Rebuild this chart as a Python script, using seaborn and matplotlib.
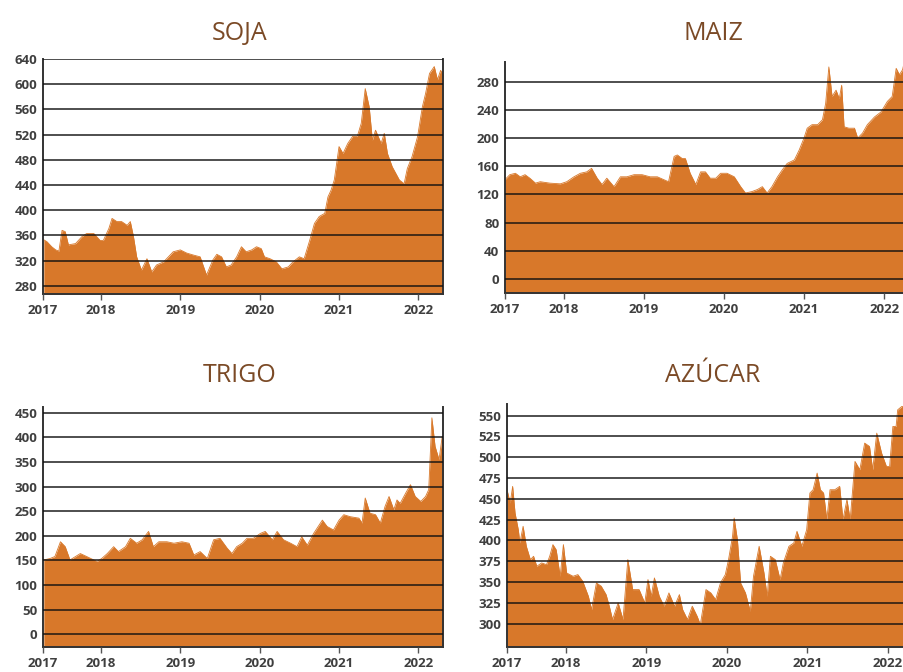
import pandas as pd
import seaborn as sns
import matplotlib.pyplot as plt

# fechas en años decimales
soja_t = [2017.28, 2017.32, 2017.38, 2017.43, 2017.47, 2017.51, 2017.55, 2017.59, 2017.68, 2017.76,
          2017.82, 2017.91, 2017.99, 2018.03, 2018.10, 2018.14, 2018.20, 2018.26, 2018.33, 2018.37,
          2018.41, 2018.45, 2018.51, 2018.58, 2018.64, 2018.70, 2018.79, 2018.85, 2018.91, 2019.00,
          2019.08, 2019.16, 2019.25, 2019.33, 2019.41, 2019.46, 2019.52, 2019.58, 2019.64, 2019.71,
          2019.77, 2019.83, 2019.90, 2019.96, 2020.02, 2020.06, 2020.13, 2020.21, 2020.28, 2020.36,
          2020.42, 2020.50, 2020.56, 2020.63, 2020.69, 2020.75, 2020.82, 2020.86, 2020.90, 2020.94,
          2021.00, 2021.05, 2021.11, 2021.17, 2021.23, 2021.28, 2021.33, 2021.38, 2021.42, 2021.46,
          2021.53, 2021.57, 2021.61, 2021.67, 2021.76, 2021.82, 2021.86, 2021.92, 2021.99, 2022.05,
          2022.09, 2022.14, 2022.20, 2022.24, 2022.28, 2022.31]
soja_v = [353, 350, 342, 337, 335, 368, 366, 345, 347, 358,
          363, 363, 352, 352, 371, 387, 382, 382, 376, 382,
          358, 326, 305, 323, 302, 313, 318, 326, 334, 337,
          332, 329, 326, 297, 321, 330, 326, 310, 313, 326,
          342, 334, 337, 342, 339, 326, 323, 318, 307, 310,
          318, 326, 323, 352, 379, 390, 395, 421, 432, 448,
          501, 490, 506, 517, 517, 538, 593, 564, 511, 527,
          506, 522, 490, 469, 448, 442, 466, 485, 517, 564,
          585, 617, 628, 607, 622, 615]

maiz_t = [2017.27, 2017.33, 2017.40, 2017.46, 2017.52, 2017.58, 2017.65, 2017.71, 2017.83, 2017.96,
          2018.04, 2018.13, 2018.21, 2018.29, 2018.35, 2018.42, 2018.48, 2018.54, 2018.63, 2018.71,
          2018.79, 2018.88, 2018.98, 2019.08, 2019.17, 2019.25, 2019.31, 2019.38, 2019.42, 2019.48,
          2019.52, 2019.58, 2019.65, 2019.71, 2019.77, 2019.83, 2019.90, 2019.96, 2020.04, 2020.13,
          2020.21, 2020.27, 2020.35, 2020.42, 2020.48, 2020.54, 2020.60, 2020.67, 2020.73, 2020.79,
          2020.88, 2020.94, 2021.00, 2021.04, 2021.10, 2021.17, 2021.23, 2021.27, 2021.31, 2021.35,
          2021.40, 2021.44, 2021.47, 2021.50, 2021.56, 2021.63, 2021.67, 2021.73, 2021.79, 2021.88,
          2021.96, 2022.04, 2022.10, 2022.15, 2022.19, 2022.23, 2022.26, 2022.31]
maiz_v = [141, 148, 150, 145, 148, 143, 136, 138, 136, 135,
          138, 145, 150, 152, 157, 143, 134, 143, 131, 145,
          145, 148, 148, 145, 145, 141, 138, 174, 176, 171,
          171, 150, 134, 152, 152, 143, 143, 150, 150, 145,
          131, 122, 124, 127, 131, 122, 131, 145, 155, 164,
          169, 183, 200, 214, 219, 219, 226, 249, 301, 259,
          268, 256, 275, 216, 214, 214, 200, 207, 219, 230,
          237, 252, 259, 299, 290, 297, 313, 310]

trigo_t = [2017.28, 2017.36, 2017.42, 2017.49, 2017.55, 2017.61, 2017.68, 2017.74, 2017.82, 2017.91,
           2017.95, 2018.01, 2018.08, 2018.16, 2018.22, 2018.31, 2018.37, 2018.45, 2018.52, 2018.60,
           2018.66, 2018.73, 2018.83, 2018.92, 2019.02, 2019.11, 2019.17, 2019.25, 2019.34, 2019.42,
           2019.50, 2019.59, 2019.65, 2019.71, 2019.78, 2019.84, 2019.92, 2020.01, 2020.07, 2020.16,
           2020.22, 2020.30, 2020.39, 2020.47, 2020.53, 2020.60, 2020.68, 2020.79, 2020.85, 2020.93,
           2021.00, 2021.06, 2021.14, 2021.25, 2021.29, 2021.33, 2021.39, 2021.46, 2021.52, 2021.58,
           2021.63, 2021.69, 2021.73, 2021.77, 2021.84, 2021.90, 2021.96, 2022.03, 2022.09, 2022.13,
           2022.17, 2022.21, 2022.26, 2022.30, 2022.32]
trigo_v = [151, 154, 158, 188, 178, 151, 158, 164, 158, 151,
           148, 154, 164, 178, 168, 178, 195, 185, 192, 209,
           178, 188, 188, 185, 188, 185, 161, 168, 154, 192,
           195, 175, 164, 178, 185, 195, 195, 205, 209, 192,
           209, 192, 185, 178, 198, 181, 205, 232, 219, 212,
           232, 243, 239, 236, 226, 277, 246, 243, 226, 260,
           280, 253, 273, 266, 287, 304, 280, 270, 280, 294,
           440, 382, 355, 402, 399]

azucar_t = [2017.27, 2017.31, 2017.34, 2017.37, 2017.41, 2017.43, 2017.47, 2017.51, 2017.56, 2017.60,
            2017.64, 2017.70, 2017.76, 2017.80, 2017.84, 2017.88, 2017.93, 2017.97, 2018.01, 2018.09,
            2018.15, 2018.21, 2018.28, 2018.32, 2018.38, 2018.44, 2018.50, 2018.54, 2018.58, 2018.65,
            2018.71, 2018.77, 2018.83, 2018.91, 2018.98, 2019.02, 2019.06, 2019.10, 2019.16, 2019.22,
            2019.28, 2019.35, 2019.41, 2019.45, 2019.51, 2019.57, 2019.63, 2019.67, 2019.74, 2019.80,
            2019.86, 2019.92, 2019.98, 2020.02, 2020.07, 2020.09, 2020.13, 2020.17, 2020.23, 2020.29,
            2020.33, 2020.40, 2020.46, 2020.50, 2020.54, 2020.60, 2020.66, 2020.70, 2020.77, 2020.83,
            2020.87, 2020.93, 2020.99, 2021.03, 2021.07, 2021.12, 2021.16, 2021.20, 2021.24, 2021.28,
            2021.34, 2021.40, 2021.44, 2021.49, 2021.53, 2021.59, 2021.65, 2021.71, 2021.77, 2021.81,
            2021.86, 2021.92, 2021.98, 2022.02, 2022.06, 2022.10, 2022.12, 2022.17, 2022.25, 2022.31]
azucar_v = [461, 445, 465, 433, 413, 397, 417, 393, 377, 381,
            369, 373, 371, 381, 395, 389, 357, 395, 361, 357,
            359, 351, 333, 317, 349, 345, 335, 321, 305, 325,
            305, 377, 341, 341, 325, 353, 333, 355, 333, 321,
            337, 321, 335, 317, 305, 321, 309, 299, 341, 337,
            329, 349, 359, 377, 405, 427, 401, 349, 337, 315,
            357, 393, 361, 333, 381, 377, 353, 373, 393, 397,
            411, 393, 413, 457, 461, 481, 461, 457, 425, 461,
            461, 465, 425, 449, 425, 495, 485, 517, 513, 485,
            529, 505, 489, 489, 537, 537, 557, 561, 560, 555]

year_ticks = [2017.27, 2018, 2019, 2020, 2021, 2022]
year_labels = ['2017', '2018', '2019', '2020', '2021', '2022']

fill_color = '#D8782A'
title_color = '#7B4A26'
tick_color = '#3F3F3F'

sns.set_theme(style='white')
plt.rcParams['font.family'] = ['Open Sans', 'DejaVu Sans']


def draw_panel(fig, rect, t, v, ylim, yticks):
    ax = fig.add_axes(rect)
    df = pd.DataFrame({'fecha': t, 'valor': v})
    ax.fill_between(df['fecha'], df['valor'], ylim[0], color=fill_color, linewidth=0)
    sns.lineplot(data=df, x='fecha', y='valor', ax=ax, color=fill_color, linewidth=0.6)
    ax.set_xlim(2017.27, 2022.31)
    ax.set_ylim(*ylim)
    ax.set_yticks(yticks)
    ax.set_xticks(year_ticks)
    ax.set_xticklabels(year_labels)
    ax.set_xlabel('')
    ax.set_ylabel('')
    ax.set_axisbelow(False)
    ax.yaxis.grid(True, color='#111111', alpha=0.8, linewidth=1.3)
    ax.xaxis.grid(False)
    ax.tick_params(axis='y', length=0, pad=4, labelsize=9.5, labelcolor=tick_color)
    ax.tick_params(axis='x', length=4, width=1, color='#555555', direction='out',
                   pad=3, labelsize=9.5, labelcolor=tick_color, bottom=True)
    for lab in ax.get_xticklabels() + ax.get_yticklabels():
        lab.set_fontweight('bold')
    ax.spines['top'].set_visible(False)
    for side in ['left', 'bottom', 'right']:
        ax.spines[side].set_color('#333333')
        ax.spines[side].set_linewidth(1.4)
    return ax


fig = plt.figure(figsize=(9.04, 6.72), dpi=100)

draw_panel(fig, [43 / 904, 1 - 294 / 672, 400 / 904, 235 / 672], soja_t, soja_v,
           (267, 640), list(range(280, 641, 40)))
draw_panel(fig, [505 / 904, 1 - 293 / 672, 404 / 904, 231 / 672], maiz_t, maiz_v,
           (-20, 308), list(range(0, 281, 40)))
draw_panel(fig, [43 / 904, 1 - 647 / 672, 400 / 904, 240 / 672], trigo_t, trigo_v,
           (-26, 462), list(range(0, 451, 50)))
draw_panel(fig, [507 / 904, 1 - 647 / 672, 406 / 904, 243 / 672], azucar_t, azucar_v,
           (272, 564), list(range(300, 551, 25)))

titles = [('SOJA', 240, 40), ('MAIZ', 713, 40), ('TRIGO', 240, 382), ('AZÚCAR', 713, 382)]
for name, px, py in titles:
    fig.text(px / 904, 1 - py / 672, name, ha='center', va='baseline',
             fontsize=18, color=title_color)

fig.savefig('out.png', dpi=100)
